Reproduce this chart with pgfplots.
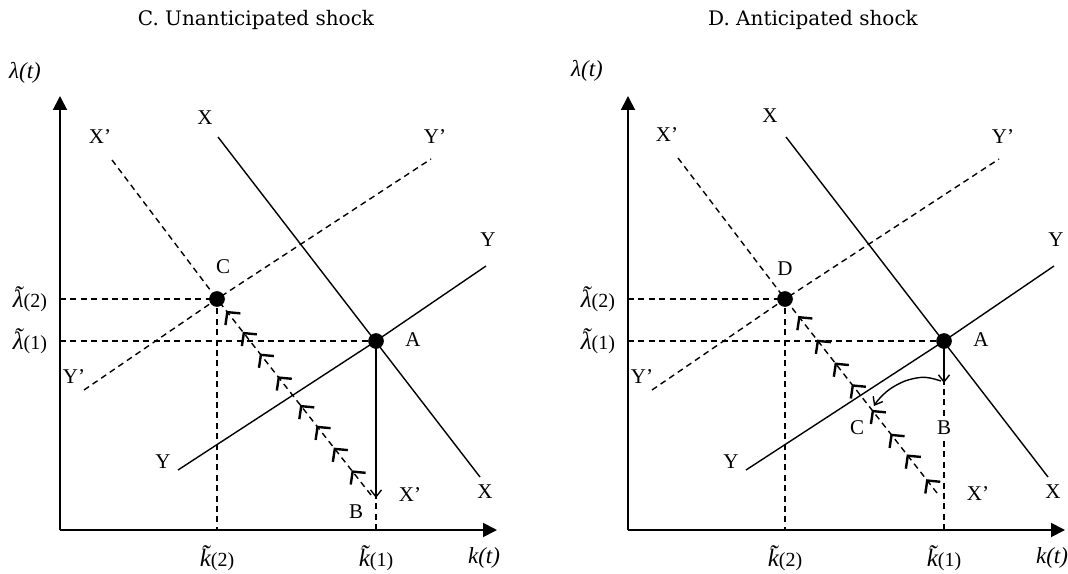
\documentclass[border=0pt]{standalone}
\usepackage{pgfplots}
\pgfplotsset{compat=1.18}
\usepackage{fontspec}
\setmainfont{Liberation Serif}
\newfontfamily\titlefont{DejaVu Serif}
\usetikzlibrary{arrows.meta,decorations.markings}
\newcommand\lab{\fontsize{10.5}{12}\selectfont}
\newcommand\chev{\arrow[solid]{Straight Barb[length=4.5pt,width=9.5pt,line width=1.2pt]}}
\newcommand\til[2]{\setbox0\hbox{#1}\rlap{\hbox to\wd0{\hss\raisebox{#2}{˜}\hss}}\box0}
\newcommand\tk[1]{{\fontsize{12.5}{14}\selectfont\itshape\til{k}{0.14em}}{\fontsize{10}{12}\selectfont(#1)}}
\newcommand\tl[1]{{\fontsize{12.5}{14}\selectfont\itshape\til{λ}{0.14em}}{\fontsize{10}{12}\selectfont(#1)}}
\pgfplotsset{
  panel/.style={
    x=0.5pt, y=0.5pt, xmin=0, xmax=437, ymin=0, ymax=434,
    anchor=south west,
    axis lines=left,
    axis line style={line width=0.9pt},
    every outer x axis line/.append style={-{Triangle[length=7pt,width=7pt]}},
    every outer y axis line/.append style={-{Triangle[length=7pt,width=7pt]}},
    xtick={157,316}, ytick={189,231},
    xticklabels={{\tk{2}},{\tk{1}}},
    yticklabels={{\tl{1}},{\tl{2}}},
    major tick length=0pt,
    tick label style={font=\lab},
    xticklabel style={yshift=-4.5pt},
    yticklabel style={xshift=-3pt},
    clip=false,
  },
  dsh/.style={black, line width=0.7pt, dash pattern=on 3pt off 2.2pt},
  sld/.style={black, line width=0.7pt},
}
\begin{document}
\begin{tikzpicture}[x=0.5pt,y=0.5pt]
\path[use as bounding box] (-60,-43) rectangle (1008,530);
% ---------------- Left panel ----------------
\begin{axis}[panel, at={(0,0)}]
\addplot[dsh] coordinates {(0,231) (157,231) (157,0)};
\addplot[dsh] coordinates {(0,189) (316,189) (316,0)};
\addplot[sld] coordinates {(158,393) (420,53)};
\addplot[sld] coordinates {(118,60) (316,189) (426,264)};
\addplot[dsh] coordinates {(24,140) (157,231) (371,371)};
\addplot[dsh] coordinates {(52,370) (157,231)};
\addplot[dsh, postaction={decorate}, decoration={markings,
  mark=at position 0.126 with {\chev},
  mark=at position 0.242 with {\chev},
  mark=at position 0.354 with {\chev},
  mark=at position 0.46 with {\chev},
  mark=at position 0.606 with {\chev},
  mark=at position 0.722 with {\chev},
  mark=at position 0.833 with {\chev},
  mark=at position 0.94 with {\chev}}]
  coordinates {(311,35) (157,231)};
\addplot[sld, -{Straight Barb[length=3.5pt,width=5.5pt]}] coordinates {(316,189) (316,32)};
\addplot[only marks, mark=*, mark size=3.7pt, black] coordinates {(316,189) (157,231)};
\node[font=\titlefont\fontsize{10}{12}\selectfont] at (axis cs:196,510) {C. Unanticipated shock};
\node[font=\fontsize{11.5}{13}\selectfont\itshape] at (axis cs:-35,457) {λ(t)};
\node[font=\fontsize{11.5}{13}\selectfont\itshape] at (axis cs:424,-28) {k(t)};
\node[font=\lab] at (axis cs:145,412) {X};
\node[font=\lab] at (axis cs:425,38) {X};
\node[font=\lab] at (axis cs:40,393) {X’};
\node[font=\lab] at (axis cs:350,35) {X’};
\node[font=\lab] at (axis cs:375,393) {Y’};
\node[font=\lab] at (axis cs:14,153) {Y’};
\node[font=\lab] at (axis cs:428,290) {Y};
\node[font=\lab] at (axis cs:103,68) {Y};
\node[font=\lab] at (axis cs:163,263) {C};
\node[font=\lab] at (axis cs:353,190) {A};
\node[font=\lab] at (axis cs:296,18) {B};
\end{axis}
% ---------------- Right panel ----------------
\begin{axis}[panel, at={(568,0)}]
\addplot[dsh] coordinates {(0,231) (157,231) (157,0)};
\addplot[dsh] coordinates {(0,189) (316,189) (316,0)};
\addplot[sld] coordinates {(158,393) (420,53)};
\addplot[sld] coordinates {(118,60) (316,189) (426,264)};
\addplot[dsh] coordinates {(24,140) (157,231) (371,371)};
\addplot[dsh] coordinates {(50,372) (157,231)};
\addplot[dsh, postaction={decorate}, decoration={markings,
  mark=at position 0.071 with {\chev},
  mark=at position 0.199 with {\chev},
  mark=at position 0.306 with {\chev},
  mark=at position 0.429 with {\chev},
  mark=at position 0.561 with {\chev},
  mark=at position 0.673 with {\chev},
  mark=at position 0.791 with {\chev},
  mark=at position 0.913 with {\chev}}]
  coordinates {(309,37) (157,231)};
\addplot[sld, -{Straight Barb[length=3.5pt,width=5.5pt]}] coordinates {(316,189) (316,147)};
\addplot[sld, smooth, tension=0.6, -{Straight Barb[length=3.5pt,width=5.5pt]}]
  coordinates {(313,149) (302,152) (292,152.5) (277,149) (262,141) (251,131) (246,124)};
\addplot[only marks, mark=*, mark size=3.7pt, black] coordinates {(316,189) (157,231)};
\node[font=\titlefont\fontsize{10}{12}\selectfont] at (axis cs:185,510) {D. Anticipated shock};
\node[font=\fontsize{11.5}{13}\selectfont\itshape] at (axis cs:-41,459) {λ(t)};
\node[font=\fontsize{11.5}{13}\selectfont\itshape] at (axis cs:424,-28) {k(t)};
\node[font=\lab] at (axis cs:142,414) {X};
\node[font=\lab] at (axis cs:425,38) {X};
\node[font=\lab] at (axis cs:39,395) {X’};
\node[font=\lab] at (axis cs:350,36) {X’};
\node[font=\lab] at (axis cs:375,393) {Y’};
\node[font=\lab] at (axis cs:14,153) {Y’};
\node[font=\lab] at (axis cs:428,290) {Y};
\node[font=\lab] at (axis cs:103,68) {Y};
\node[font=\lab] at (axis cs:157,261) {D};
\node[font=\lab] at (axis cs:353,190) {A};
\node[font=\lab] at (axis cs:229,102) {C};
\node[font=\lab, fill=white, inner sep=1.5pt] at (axis cs:316,102) {B};
\end{axis}
\end{tikzpicture}
\end{document}
